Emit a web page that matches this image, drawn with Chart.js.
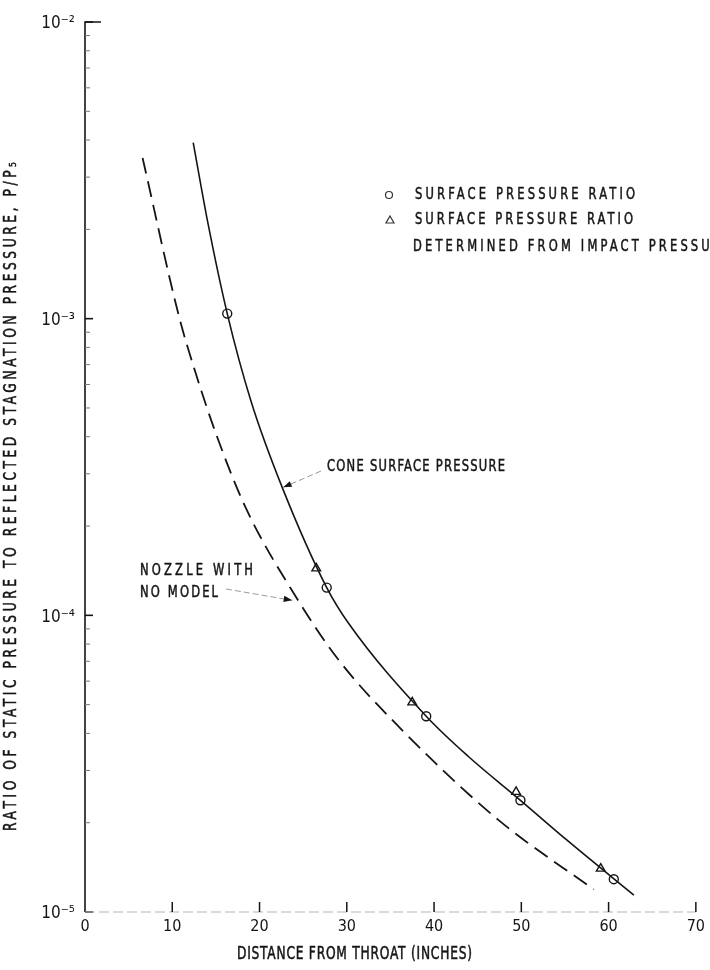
<!DOCTYPE html>
<html>
<head>
<meta charset="utf-8">
<script src="https://cdn.jsdelivr.net/npm/chart.js@4.4.1/dist/chart.umd.min.js"></script>
<style>
  html, body { margin: 0; padding: 0; background: #fff; }
  #chart { display: block; }
</style>
</head>
<body>
<canvas id="chart" width="710" height="970"></canvas>
<script>
// values
let xTicks = [0, 10, 20, 30, 40, 50, 60, 70];
let yDecades = [1e-5, 1e-4, 1e-3, 1e-2];
let yDecadeLabels = ['10⁻⁵', '10⁻⁴', '10⁻³', '10⁻²'];

// faired curves
let coneX = [12.4, 14.1, 16.3, 19.0, 22.6, 27.7, 30.2, 39.1, 43.9, 49.9, 55.1, 62.9];
let coneY = [3.92e-3, 2.09e-3, 1.04e-3, 5.3e-4, 2.7e-4, 1.24e-4, 9.4e-5, 4.57e-5, 3.35e-5, 2.38e-5, 1.76e-5, 1.14e-5];

let nozzleX = [6.6, 10.8, 12.7, 15.0, 18.4, 24.2, 29.1, 36.0, 47.4, 58.3];
let nozzleY = [3.48e-3, 1.01e-3, 6.53e-4, 4.1e-4, 2.31e-4, 1.15e-4, 7.05e-5, 4.2e-5, 2.04e-5, 1.19e-5];

// measured points
let surfaceX = [16.3, 27.7, 39.1, 49.9, 60.6];
let surfaceY = [1.04e-3, 1.24e-4, 4.57e-5, 2.38e-5, 1.29e-5];

let impactX = [26.5, 37.5, 49.4, 59.1];
let impactY = [1.44e-4, 5.09e-5, 2.54e-5, 1.40e-5];

let FONT = "'Liberation Sans Narrow', 'DejaVu Sans Condensed', 'Arial Narrow', sans-serif";
let INK = '#151515';
let SQUEEZE = 0.8;

let pts = (xs, ys) => xs.map((x, i) => ({ x: x, y: ys[i] }));

// tall narrow lettering stretched to a given width, like the stencilled original
let fitText = (ctx, text, x, y, width, spacing) => {
  ctx.save();
  ctx.scale(SQUEEZE, 1);
  ctx.letterSpacing = '0px';
  let w = ctx.measureText(text).width;
  let ls = spacing !== undefined ? spacing : (width / SQUEEZE - w) / (text.length - 1);
  ctx.letterSpacing = ls + 'px';
  ctx.fillText(text, x / SQUEEZE, y);
  ctx.strokeText(text, x / SQUEEZE, y);
  ctx.restore();
  return ls;
};

let leader = (ctx, x1, y1, tipX, tipY) => {
  ctx.save();
  ctx.strokeStyle = '#9a9a9a';
  ctx.lineWidth = 1;
  ctx.setLineDash([6, 3]);
  ctx.beginPath();
  ctx.moveTo(x1, y1);
  ctx.lineTo(tipX, tipY);
  ctx.stroke();
  ctx.setLineDash([]);
  let a = Math.atan2(tipY - y1, tipX - x1);
  ctx.fillStyle = INK;
  ctx.beginPath();
  ctx.moveTo(tipX, tipY);
  ctx.lineTo(tipX - 9 * Math.cos(a - 0.35), tipY - 9 * Math.sin(a - 0.35));
  ctx.lineTo(tipX - 9 * Math.cos(a + 0.35), tipY - 9 * Math.sin(a + 0.35));
  ctx.closePath();
  ctx.fill();
  ctx.restore();
};

let paper = {
  id: 'paper',
  afterDraw: (chart) => {
    let ctx = chart.ctx;
    let area = chart.chartArea;
    let xs = chart.scales.x;
    let ys = chart.scales.y;
    ctx.save();

    // left axis with top stub
    ctx.strokeStyle = INK;
    ctx.lineWidth = 1.6;
    ctx.beginPath();
    ctx.moveTo(area.left + 16, area.top);
    ctx.lineTo(area.left, area.top);
    ctx.lineTo(area.left, area.bottom);
    ctx.stroke();

    // inward ticks on the log axis
    ys.ticks.forEach((t) => {
      let p = ys.getPixelForValue(t.value);
      let m = Math.log10(t.value);
      let major = Math.abs(m - Math.round(m)) < 1e-6;
      ctx.strokeStyle = major ? INK : '#777';
      ctx.lineWidth = major ? 1.6 : 1;
      ctx.beginPath();
      ctx.moveTo(area.left, p);
      ctx.lineTo(area.left + (major ? 8 : 5), p);
      ctx.stroke();
    });

    // faint bottom axis
    ctx.strokeStyle = '#b5b5b5';
    ctx.lineWidth = 1.2;
    ctx.setLineDash([10, 4]);
    ctx.beginPath();
    ctx.moveTo(area.left, area.bottom);
    ctx.lineTo(area.right, area.bottom);
    ctx.stroke();
    ctx.setLineDash([]);

    ctx.strokeStyle = INK;
    ctx.lineWidth = 1.5;
    xTicks.slice(1).forEach((v) => {
      let p = xs.getPixelForValue(v);
      ctx.beginPath();
      ctx.moveTo(p, area.bottom);
      ctx.lineTo(p, area.bottom - 10);
      ctx.stroke();
    });

    ctx.textBaseline = 'middle';
    ctx.textAlign = 'left';

    // key
    ctx.strokeStyle = '#333';
    ctx.lineWidth = 1.2;
    ctx.beginPath();
    ctx.arc(389, 195, 3.5, 0, Math.PI * 2);
    ctx.stroke();
    ctx.beginPath();
    ctx.moveTo(390, 216);
    ctx.lineTo(394, 223);
    ctx.lineTo(386, 223);
    ctx.closePath();
    ctx.stroke();

    ctx.fillStyle = INK;
    ctx.strokeStyle = INK;
    ctx.lineWidth = 0.5;
    ctx.font = '16px ' + FONT;
    let ls = fitText(ctx, 'SURFACE PRESSURE RATIO', 415, 195, 220);
    fitText(ctx, 'SURFACE PRESSURE RATIO', 415, 220, 218);
    fitText(ctx, 'DETERMINED FROM IMPACT PRESSURE', 413, 247, 0, ls);

    // curve labels
    fitText(ctx, 'CONE SURFACE PRESSURE', 327, 467, 178);
    leader(ctx, 321, 471, xs.getPixelForValue(22.6) + 1, ys.getPixelForValue(2.7e-4));

    fitText(ctx, 'NOZZLE WITH', 140, 571, 113);
    fitText(ctx, 'NO MODEL', 140, 593, 78);
    leader(ctx, 226, 589, xs.getPixelForValue(24.2) - 4, ys.getPixelForValue(1.15e-4) + 3);

    // axis titles
    ctx.font = '17px ' + FONT;
    fitText(ctx, 'DISTANCE FROM THROAT (INCHES)', 237, 955, 235);
    ctx.translate(12, 497);
    ctx.rotate(-Math.PI / 2);
    fitText(ctx, 'RATIO OF STATIC PRESSURE TO REFLECTED STAGNATION PRESSURE, P/P₅', -334, 0, 669);
    ctx.restore();
  },
};

let chart = new Chart(document.getElementById('chart'), {
  type: 'scatter',
  data: {
    datasets: [
      {
        label: 'NOZZLE WITH NO MODEL',
        data: pts(nozzleX, nozzleY),
        showLine: true,
        borderColor: INK,
        borderWidth: 1.8,
        borderDash: [16, 8],
        pointRadius: 0,
        cubicInterpolationMode: 'monotone',
      },
      {
        label: 'CONE SURFACE PRESSURE',
        data: pts(coneX, coneY),
        showLine: true,
        borderColor: INK,
        borderWidth: 1.6,
        pointRadius: 0,
        cubicInterpolationMode: 'monotone',
      },
      {
        label: 'SURFACE PRESSURE RATIO DETERMINED FROM IMPACT PRESSURE',
        data: pts(impactX, impactY),
        pointStyle: 'triangle',
        pointRadius: 5,
        backgroundColor: '#fff',
        borderColor: INK,
        borderWidth: 1.4,
      },
      {
        label: 'SURFACE PRESSURE RATIO',
        data: pts(surfaceX, surfaceY),
        pointStyle: 'circle',
        pointRadius: 4.5,
        backgroundColor: '#fff',
        borderColor: INK,
        borderWidth: 1.4,
      },
    ],
  },
  options: {
    responsive: false,
    animation: false,
    devicePixelRatio: 1,
    layout: { padding: { left: 0, top: 22, right: 13, bottom: 0 } },
    plugins: {
      legend: { display: false },
      tooltip: { enabled: false },
    },
    scales: {
      x: {
        type: 'linear',
        min: 0,
        max: 70,
        afterBuildTicks: (s) => { s.ticks = xTicks.map((v) => ({ value: v })); },
        afterFit: (s) => { s.height = 58; },
        grid: { display: false, drawTicks: false },
        border: { display: false },
        ticks: {
          autoSkip: false,
          maxRotation: 0,
          padding: 5,
          color: INK,
          font: { family: FONT, size: 16 },
          callback: (v) => String(v),
        },
      },
      y: {
        type: 'logarithmic',
        min: 1e-5,
        max: 1e-2,
        afterBuildTicks: (s) => {
          let t = [];
          yDecades.forEach((d, i) => {
            let n = i < yDecades.length - 1 ? 9 : 1;
            for (let k = 1; k <= n; k++) t.push({ value: d * k });
          });
          s.ticks = t;
        },
        afterFit: (s) => { s.width = 85; },
        grid: { display: false, drawTicks: false },
        border: { display: false },
        ticks: {
          autoSkip: false,
          padding: 10,
          labelOffset: 2,
          color: INK,
          font: { family: FONT, size: 17 },
          callback: (v) => {
            let i = yDecades.findIndex((d) => Math.abs(d - v) / d < 1e-6);
            return i >= 0 ? yDecadeLabels[i] : '';
          },
        },
      },
    },
  },
  plugins: [paper],
});
</script>
</body>
</html>
